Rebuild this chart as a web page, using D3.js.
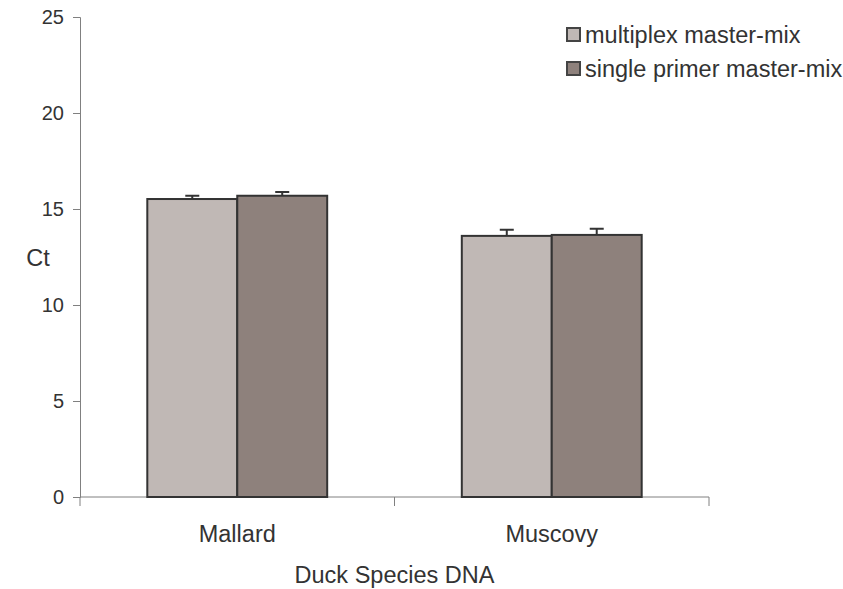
<!DOCTYPE html>
<html><head><meta charset="utf-8">
<script src="https://cdn.jsdelivr.net/npm/d3@7"></script>
<style>body{margin:0;background:#fff}svg{display:block}text{font-family:"Liberation Sans",Arial,sans-serif;fill:#333}</style>
</head><body><svg id="c" width="843" height="589"></svg>
<script>
const categories = ["Mallard", "Muscovy"];
const seriesNames = ["multiplex master-mix", "single primer master-mix"];
const multiplex = [15.52, 13.6];
const single = [15.69, 13.65];
const multiplexErr = [0.17, 0.32];
const singleErr = [0.2, 0.32];
const yTicks = [0, 5, 10, 15, 20, 25];
const colors = ["#c0b8b5", "#8e817c"];

(function () {
const svg = d3.select("#c");
const mL = 80, mR = 709, mT = 17, mB = 497;
const x = d3.scaleBand().domain(categories).range([mL, mR]).paddingInner(0.428).paddingOuter(0.214);
const xs = d3.scaleBand().domain(seriesNames).range([0, x.bandwidth()]);
const y = d3.scaleLinear().domain([0, 25]).range([mB, mT]);

const data = categories.map((c, i) => ({c, vals: [
  {s: seriesNames[0], v: multiplex[i], e: multiplexErr[i], col: colors[0]},
  {s: seriesNames[1], v: single[i], e: singleErr[i], col: colors[1]}]}));

// axes
const yAxis = svg.append("g").attr("transform", `translate(${mL},0)`)
  .call(d3.axisLeft(y).tickValues(yTicks).tickSize(7).tickPadding(9));
yAxis.select(".domain").attr("stroke", "#808080");
yAxis.selectAll(".tick line").attr("stroke", "#808080");
yAxis.selectAll(".tick text").style("font-size", "20px").style("font-family", "'Liberation Sans',Arial,sans-serif").attr("fill", "#333");

// x axis line + ticks at band boundaries
svg.append("line").attr("x1", mL).attr("x2", mR).attr("y1", mB).attr("y2", mB).attr("stroke", "#808080");
const bounds = [mL].concat(categories.map(c => x(c) + x.bandwidth() + x.step() * 0.214));
svg.selectAll(".xt").data(bounds).enter().append("line")
  .attr("x1", d => d).attr("x2", d => d).attr("y1", mB).attr("y2", mB + 9).attr("stroke", "#808080");
svg.selectAll(".xl").data(categories).enter().append("text")
  .attr("x", d => x(d) + x.bandwidth() / 2).attr("y", 542).attr("text-anchor", "middle")
  .style("font-size", "23.5px").text(d => d);

// bars
const g = svg.selectAll(".grp").data(data).enter().append("g").attr("transform", d => `translate(${x(d.c)},0)`);
g.selectAll("rect").data(d => d.vals).enter().append("rect")
  .attr("x", d => xs(d.s)).attr("width", xs.bandwidth())
  .attr("y", d => y(d.v)).attr("height", d => y(0) - y(d.v))
  .attr("fill", d => d.col).attr("stroke", "#333").attr("stroke-width", 2);
// error bars
g.selectAll(".eb").data(d => d.vals).enter().append("path")
  .attr("d", d => {
    const cx = xs(d.s) + xs.bandwidth() / 2;
    return `M${cx},${y(d.v)}V${y(d.v + d.e)}M${cx - 7},${y(d.v + d.e)}H${cx + 7}`;
  }).attr("stroke", "#333").attr("stroke-width", 2).attr("fill", "none");

// axis titles
svg.append("text").attr("x", 38).attr("y", 266).attr("text-anchor", "middle").style("font-size", "23.5px").text("Ct");
svg.append("text").attr("x", (mL + mR) / 2).attr("y", 583).attr("text-anchor", "middle").style("font-size", "23.5px").text("Duck Species DNA");

// legend
const lg = svg.selectAll(".lg").data(seriesNames).enter().append("g")
  .attr("transform", (d, i) => `translate(567,${34.5 + i * 34})`);
lg.append("rect").attr("x", 0).attr("y", -6.5).attr("width", 13).attr("height", 13)
  .attr("fill", (d, i) => colors[i]).attr("stroke", "#444").attr("stroke-width", 2);
lg.append("text").attr("x", 18).attr("y", 8).style("font-size", "23.5px").text(d => d);
})();
</script></body></html>
